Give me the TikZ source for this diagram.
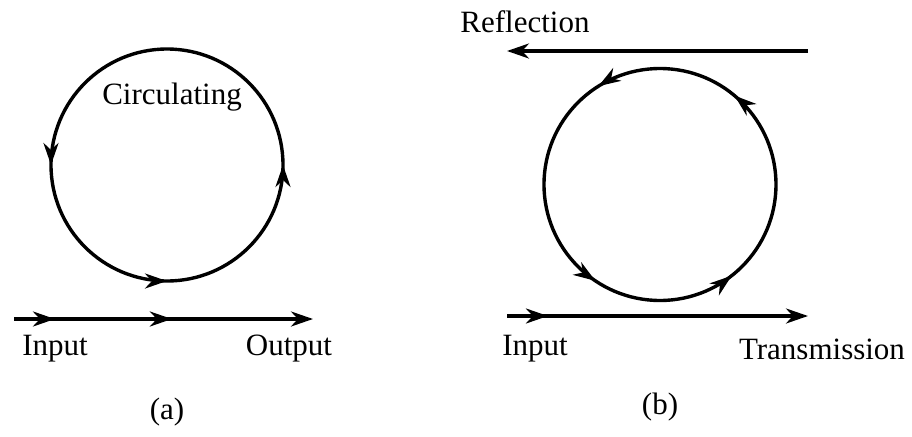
\documentclass[tikz,border=0pt]{standalone}
\usepackage{fontspec}
\setmainfont{Liberation Serif}
\usepackage{tikz}
\usetikzlibrary{arrows.meta,decorations.markings}

\begin{document}
\begin{tikzpicture}[x=0.5pt,y=0.5pt,>={Stealth[length=11pt,width=7.5pt,inset=3.5pt]},line width=1.7pt]
  \tikzstyle{lbl}=[font=\fontsize{15.5}{18}\selectfont,inner sep=0pt]
  \tikzstyle{midarrow}=[postaction={decorate,decoration={markings,mark=at position #1 with {\arrow{>}}}}]
  \useasboundingbox (0,0) rectangle (912,436);
  % (a) ring resonator
  \coordinate (ringa) at (167,271);
  \coordinate (ina) at (14,117);
  \coordinate (outa) at (313,117);
  \draw[midarrow=0.25,midarrow=0.5,midarrow=0.75] (ringa) ++(90:116) arc[start angle=90,end angle=450,radius=116];
  \draw[->,midarrow=0.137,midarrow=0.528] (ina) -- (outa);
  \node[lbl] (circ) at (172,339) {Circulating};
  \node[lbl] (inlbla) at (55,87) {Input};
  \node[lbl] (outlbla) at (289,87) {Output};
  \node[lbl] (capa) at (167,24) {(a)};
  % (b) ring with reflection
  \coordinate (ringb) at (660,251.5);
  \coordinate (inb) at (507,120);
  \coordinate (outb) at (808,120);
  \coordinate (refs) at (808,385);
  \coordinate (refe) at (507,385);
  \draw[midarrow=0.089,midarrow=0.406,midarrow=0.606,midarrow=0.889] (ringb) ++(90:116) arc[start angle=90,end angle=450,radius=116];
  \draw[->,midarrow=0.136] (inb) -- (outb);
  \draw[->] (refs) -- (refe);
  \node[lbl] (reflbl) at (525,414) {Reflection};
  \node[lbl] (inlblb) at (535,87) {Input};
  \node[lbl] (translbl) at (822,87) {Transmission};
  \node[lbl] (capb) at (660,29) {(b)};
\end{tikzpicture}
\end{document}
